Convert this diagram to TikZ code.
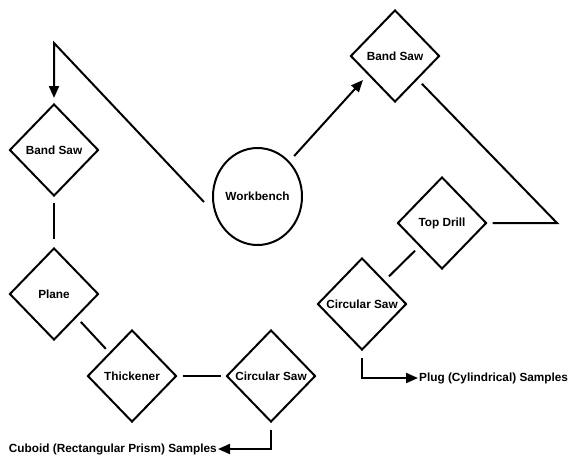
\documentclass[tikz,border=0pt]{standalone}
\usepackage{fontspec}
\setmainfont{Liberation Sans}
\usetikzlibrary{shapes.geometric,arrows.meta}
\tikzset{
  dia/.style={draw, shape=diamond, inner sep=0pt, minimum width=89pt, minimum height=92pt, line width=2pt},
  lbl/.style={font=\fontsize{11.8}{14}\selectfont\bfseries},
  ln/.style={line width=2pt},
  arr/.style={line width=2pt, -{Triangle[length=12pt,width=10pt]}},
}
\begin{document}
\begin{tikzpicture}[x=1pt,y=-1pt]
\useasboundingbox (0,0) rectangle (570,456);
% nodes
\node[dia, label={[lbl]center:Band Saw}] (bs1) at (54,150) {};
\node[dia, label={[lbl]center:Plane}] (pl) at (54,294) {};
\node[dia, label={[lbl]center:Thickener}] (th) at (132,376) {};
\node[dia, label={[lbl]center:Circular Saw}] (cs1) at (271,376) {};
\node[draw, ellipse, line width=2pt, minimum width=89pt, minimum height=97pt, inner sep=0pt, label={[lbl]center:Workbench}] (wb) at (257.5,196.5) {};
\node[dia, label={[lbl]center:Band Saw}] (bs2) at (395,56) {};
\node[dia, label={[lbl]center:Top Drill}] (td) at (442,223) {};
\node[dia, label={[lbl]center:Circular Saw}] (cs2) at (362,304) {};
\node[lbl, anchor=east, inner sep=1pt] (cub) at (218,449) {Cuboid (Rectangular Prism) Samples};
\node[lbl, anchor=west, inner sep=1pt] (plug) at (418,378) {Plug (Cylindrical) Samples};
\coordinate (c1) at (54,43);
\coordinate (c2) at (557,223);
\coordinate (bs2in) at (363,80);
% connectors
\draw[arr, shorten >=5pt] ([shift={(-8,5.5)}]wb.west) -- (c1) -- (bs1.north);
\draw[ln, shorten <=6pt, shorten >=8pt] (bs1.south) -- (pl.north);
\draw[ln, shorten <=6pt, shorten >=5pt] (pl.south east) -- (th.north west);
\draw[ln, shorten <=5pt, shorten >=5pt] (th.east) -- (cs1.west);
\draw[arr] ([yshift=-7pt]cs1.south) |- (cub.east);
\draw[arr, shorten <=7pt] (wb) -- (bs2in);
\draw[ln, shorten <=6pt, shorten >=5pt] (bs2.south east) -- (c2) -- (td.east);
\draw[ln, shorten <=6pt, shorten >=6pt] (td.south west) -- (cs2.north east);
\draw[arr] ([yshift=-7pt]cs2.south) |- (plug.west);
\end{tikzpicture}
\end{document}
